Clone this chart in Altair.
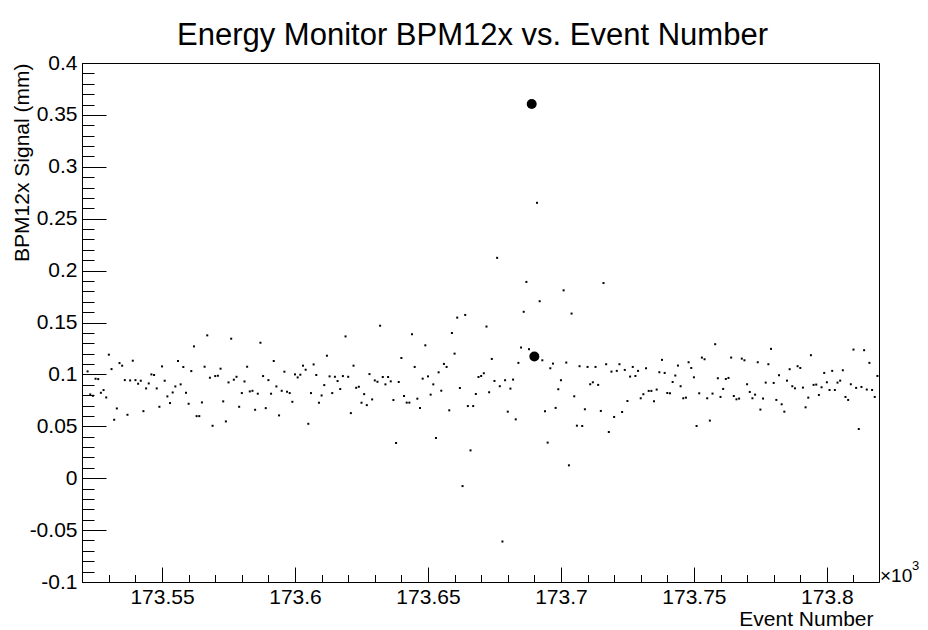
import altair as alt
import pandas as pd

FONT = "Liberation Sans"

# ---- data ----
FIRST_EVENT = 173522
signal = [
    # 173522 ...
    0.1029, 0.0807, 0.0794, 0.0958, 0.0955, 0.0823, 0.0849, 0.0778, 0.1190, 0.1051,
    0.0563, 0.0672, 0.1109, 0.1084, 0.0945, 0.0611, 0.0942, 0.1132, 0.0945, 0.0910,
    0.0939, 0.0646, 0.0865, 0.0913, 0.1000, 0.0994, 0.0865, 0.0688, 0.1077, 0.0939,
    0.0788, 0.0724, 0.0826, 0.0884, 0.1129, 0.0904,
    0.1071, 0.0823, 0.0717, 0.1032, 0.1270, 0.0598, 0.0598, 0.0730, 0.1074, 0.1376,
    0.0968, 0.0505, 0.0984, 0.0987, 0.1055, 0.0740, 0.0547, 0.0923, 0.1344, 0.0949,
    0.0977, 0.0688, 0.0820, 0.0932, 0.1074, 0.0836, 0.0842, 0.0659, 0.0814, 0.1305,
    0.0984, 0.0675, 0.0945, 0.0814, 0.1129, 0.0884, 0.0605,
    0.0842, 0.1026, 0.0833, 0.0820, 0.0736, 0.1000, 0.0971, 0.0997, 0.1084, 0.1045,
    0.0524, 0.0820, 0.1096, 0.0994, 0.0727, 0.0797, 0.0897, 0.1180, 0.0981, 0.0820,
    0.0977, 0.0936, 0.0859, 0.0984, 0.1366, 0.0977, 0.0627, 0.1084, 0.0871, 0.0881,
    0.0727, 0.0810, 0.0704, 0.1003, 0.0759, 0.0942, 0.0929, 0.1469,
    0.0975, 0.0904, 0.0975, 0.0933, 0.0753, 0.0339, 0.0927, 0.1158, 0.0792, 0.0728,
    0.0728, 0.1387, 0.1072, 0.0766, 0.0676, 0.0959, 0.1280, 0.0981, 0.0805, 0.0904,
    0.0387, 0.1020, 0.0843, 0.1101, 0.1072, 0.0654, 0.1399, 0.1200, 0.1547, 0.0869,
    -0.0076, 0.1573, 0.0695, 0.0268, 0.0695, 0.0811, 0.0975,
    0.0985, 0.1011, 0.1461, 0.0828, 0.1149, 0.0937, 0.2123, 0.0886, -0.0610, 0.0944,
    0.0641, 0.0863, 0.0950, 0.0567, 0.1111, 0.1259, 0.1603, 0.1891, 0.1243, 0.3605,
    0.1172, 0.2653, 0.1705, 0.1136, 0.0645, 0.0343, 0.1059, 0.1104, 0.0677, 0.0857,
    0.0944, 0.1810, 0.1114, 0.0124, 0.1586, 0.0789, 0.0506, 0.1079,
    0.0503, 0.0664, 0.1072, 0.0905, 0.0924, 0.1072, 0.0899, 0.0648, 0.1880, 0.1098,
    0.0445, 0.1027, 0.0590, 0.1034, 0.1098, 0.0638, 0.1043, 0.0744, 0.0979, 0.1072,
    0.0985, 0.1034, 0.0770, 0.0809, 0.1059, 0.0841, 0.0841, 0.0741, 0.0854, 0.1021,
    0.1140, 0.1014, 0.0821, 0.0818, 0.0927, 0.0989, 0.1085, 0.0886,
    0.0770, 0.0776, 0.1117, 0.1062, 0.0972, 0.0503, 0.0818, 0.1162, 0.1146, 0.0770,
    0.0555, 0.0815, 0.1291, 0.0963, 0.0783, 0.0860, 0.0956, 0.0966, 0.1162, 0.0792,
    0.0760, 0.0767, 0.1152, 0.1136, 0.0905, 0.0831, 0.0770, 0.0805, 0.1117, 0.0661,
    0.0767, 0.0921, 0.1098, 0.1246, 0.0918, 0.0754, 0.0992,
    0.0712, 0.0641, 0.0940, 0.1050, 0.0886, 0.0866, 0.1079, 0.1062, 0.0873, 0.0683,
    0.0776, 0.1185, 0.0899, 0.0902, 0.0802, 0.0876, 0.1014, 0.0924, 0.0850, 0.1034,
    0.0850, 0.0921, 0.0940, 0.1040, 0.0783, 0.0754, 0.0905, 0.1239, 0.0870, 0.0474,
    0.0879, 0.1233, 0.0854, 0.1111, 0.0850, 0.0783, 0.0985,
]
events = list(range(FIRST_EVENT, FIRST_EVENT + len(signal)))

# highlighted (large marker) events
hl_events = [173689, 173690]
hl_signal = [0.3605, 0.1172]

# axis ticks
x_major = [173.55, 173.6, 173.65, 173.7, 173.75, 173.8]
x_minor = [round(173.52 + 0.01 * i, 2) for i in range(30)]
y_major = [-0.1, -0.05, 0.0, 0.05, 0.1, 0.15, 0.2, 0.25, 0.3, 0.35, 0.4]
y_minor = [round(-0.1 + 0.01 * i, 2) for i in range(51)]

df = pd.DataFrame({"event_k": [e / 1000 for e in events], "signal": signal})
hl = pd.DataFrame({"event_k": [e / 1000 for e in hl_events], "signal": hl_signal})
note = pd.DataFrame({"t": ["\u00d710"]})
note_exp = pd.DataFrame({"t": ["3"]})

W, H = 797, 519
xscale = alt.Scale(domain=[173.5199, 173.8196], nice=False, zero=False)
yscale = alt.Scale(domain=[-0.1, 0.4], nice=False, zero=False)
lab = "replace(format(datum.value, '.2~f'), '\u2212', '-')"

x_main = alt.Axis(orient="bottom", values=x_major, labelExpr=lab, ticks=False, tickSize=0,
                  grid=False, domain=True, domainColor="black", domainWidth=1,
                  labelFont=FONT, labelFontSize=21, labelColor="black", labelPadding=4,
                  labelFlush=False, labelOverlap=False,
                  title="Event Number", titleFont=FONT, titleFontSize=21,
                  titleFontWeight="normal", titleColor="black", titleAlign="right",
                  titleBaseline="alphabetic", titleX=W - 6, titleY=43)
y_main = alt.Axis(orient="left", values=y_major, labelExpr=lab, ticks=False, tickSize=0,
                  grid=False, domain=True, domainColor="black", domainWidth=1,
                  labelFont=FONT, labelFontSize=21, labelColor="black", labelPadding=5,
                  labelFlush=False, labelOverlap=False,
                  title="BPM12x Signal (mm)", titleFont=FONT, titleFontSize=21,
                  titleFontWeight="normal", titleColor="black", titleAngle=270,
                  titleAlign="right", titleBaseline="middle", titleX=-60, titleY=0)


def tick_axis(orient, vals, size, off):
    return alt.Axis(orient=orient, values=vals, tickSize=size, ticks=True, tickColor="black",
                    tickWidth=1, labels=False, domain=False, grid=False, offset=off, title=None)


points = alt.Chart(df).mark_square(size=4, color="black", opacity=1).encode(
    x=alt.X("event_k:Q", scale=xscale, axis=x_main),
    y=alt.Y("signal:Q", scale=yscale, axis=y_main),
)

big = alt.Chart(hl).mark_circle(size=100, color="black", opacity=1).encode(
    x=alt.X("event_k:Q", scale=xscale, axis=tick_axis("top", x_major, 15, -H)),
    y=alt.Y("signal:Q", scale=yscale, axis=tick_axis("right", y_major, 24, -W)),
)

minor = alt.Chart(df).mark_square(size=4, opacity=0).encode(
    x=alt.X("event_k:Q", scale=xscale, axis=tick_axis("top", x_minor, 7.5, -H)),
    y=alt.Y("signal:Q", scale=yscale, axis=tick_axis("right", y_minor, 12, -W)),
)

mult = alt.Chart(note).mark_text(font=FONT, fontSize=19, align="left", baseline="middle",
                                  color="black").encode(
    x=alt.value(W + 1), y=alt.value(H - 6), text="t:N")
mult_exp = alt.Chart(note_exp).mark_text(font=FONT, fontSize=13, align="left",
                                         baseline="middle", color="black").encode(
    x=alt.value(W + 33), y=alt.value(H - 16), text="t:N")

chart = alt.layer(points, big, minor, mult, mult_exp).resolve_axis(
    x="independent", y="independent"
).properties(
    width=W, height=H,
    autosize=alt.AutoSizeParams(type="none"),
    padding={"left": 74, "top": 55, "right": 41, "bottom": 47},
    background="white",
    title=alt.Title("Energy Monitor BPM12x vs. Event Number", font=FONT, fontSize=31,
                    fontWeight="normal", color="black", anchor="middle", offset=0, dx=-8),
).configure_view(stroke="black", strokeWidth=1)

chart.save("out.html", embed_options={"renderer": "svg", "actions": False})
